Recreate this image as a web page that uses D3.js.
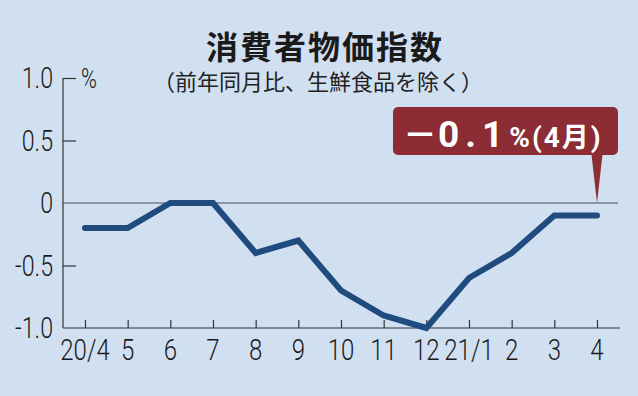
<!DOCTYPE html>
<html>
<head>
<meta charset="utf-8">
<script src="https://cdn.jsdelivr.net/npm/d3@7"></script>
<style>
  body { margin: 0; background: #d1e0f1; }
  svg { display: block; }
</style>
</head>
<body>
<div class="container"></div>
<script>
// data
var months = ["20/4", "5", "6", "7", "8", "9", "10", "11", "12", "21/1", "2", "3", "4"];
var values = [-0.2, -0.2, 0, 0, -0.4, -0.3, -0.7, -0.9, -1.0, -0.6, -0.4, -0.1, -0.1];
var yTicks = [1.0, 0.5, 0, -0.5, -1.0];
var yTickLabels = ["1.0", "0.5", "0", "-0.5", "-1.0"];

var width = 638, height = 396;
var margin = {top: 78, right: 20, bottom: 68, left: 63};
var numFont = "'Roboto', 'Liberation Sans', sans-serif";
var jpFont = "'Noto Sans CJK JP', sans-serif";
var squeeze = 0.8;

var svg = d3.select(".container").append("svg")
    .attr("width", width)
    .attr("height", height);

svg.append("rect")
    .attr("width", width).attr("height", height)
    .attr("fill", "#d1e0f1");

var x = d3.scalePoint()
    .domain(months)
    .range([85, 597]);

var y = d3.scaleLinear()
    .domain([-1, 1])
    .range([height - margin.bottom, margin.top]);

// title
svg.append("text")
    .attr("x", 325).attr("y", 59)
    .attr("text-anchor", "middle")
    .style("font", "bold 32px " + jpFont)
    .style("letter-spacing", "2px")
    .attr("fill", "#1a1a1a")
    .text("消費者物価指数");

svg.append("text")
    .attr("x", 318).attr("y", 90)
    .attr("text-anchor", "middle")
    .style("font", "22px " + jpFont)
    .attr("fill", "#222")
    .text("（前年同月比、生鮮食品を除く）");

// zero line
svg.append("line")
    .attr("x1", margin.left).attr("x2", 618)
    .attr("y1", y(0)).attr("y2", y(0))
    .attr("stroke", "#4a4f57").attr("stroke-width", 1.2);

// y axis
var yAxis = svg.append("g")
    .attr("transform", `translate(${margin.left},0)`)
    .call(d3.axisRight(y).tickValues(yTicks).tickSize(13).tickFormat(""));
yAxis.select(".domain").attr("stroke", "#333").attr("stroke-width", 1.2)
    .attr("d", `M0,${y(1)}V${y(-1)}`);
yAxis.selectAll(".tick line").attr("stroke", "#333").attr("stroke-width", 1.2)
    .attr("x2", d => d === 0 || d === -1 ? 0 : 13);

svg.append("g")
    .selectAll("text")
    .data(yTicks)
    .join("text")
      .attr("transform", d => `translate(53,${y(d) + 10}) scale(${squeeze},1)`)
      .attr("text-anchor", "end")
      .style("font", "300 29px " + numFont)
      .attr("fill", "#1a1a1a")
      .text((d, i) => yTickLabels[i]);

svg.append("text")
    .attr("transform", `translate(81,88) scale(${squeeze},1)`)
    .style("font", "300 27px " + numFont)
    .attr("fill", "#1a1a1a")
    .text("%");

// x axis
var xAxis = svg.append("g")
    .attr("transform", `translate(0,${y(-1)})`)
    .call(d3.axisTop(x).tickSize(8).tickFormat(""));
xAxis.select(".domain").attr("stroke", "#333").attr("stroke-width", 1.2)
    .attr("d", `M${margin.left},0H620`);
xAxis.selectAll(".tick line").attr("stroke", "#333").attr("stroke-width", 1.2);

svg.append("g")
    .selectAll("text")
    .data(months)
    .join("text")
      .attr("transform", d => `translate(${x(d)},${y(-1) + 32}) scale(${squeeze},1)`)
      .attr("text-anchor", "middle")
      .style("font", "300 30px " + numFont)
      .attr("fill", "#1a1a1a")
      .text(d => d);

// line
var line = d3.line()
    .x((d, i) => x(months[i]))
    .y(d => y(d));

svg.append("path")
    .datum(values)
    .attr("fill", "none")
    .attr("stroke", "#1f4b7e")
    .attr("stroke-width", 6)
    .attr("stroke-linejoin", "miter")
    .attr("stroke-linecap", "round")
    .attr("d", line);

// callout
var last = months.length - 1;
var px = x(months[last]);
var callout = svg.append("g");
callout.append("path")
    .attr("d", `M${px - 6},150 L${px},${y(0)} L${px + 6},150 Z`)
    .attr("fill", "#8c2c34");
callout.append("rect")
    .attr("x", 393).attr("y", 107)
    .attr("width", 225).attr("height", 48)
    .attr("rx", 5)
    .attr("fill", "#8c2c34");

var ct = callout.append("text")
    .attr("x", 403).attr("y", 147)
    .attr("fill", "#fff")
    .style("font-family", "'Roboto', 'Liberation Sans', sans-serif")
    .style("font-weight", "bold");
ct.append("tspan")
    .style("font-size", "34px")
    .style("font-family", jpFont)
    .text("－");
ct.append("tspan")
    .attr("dx", 1)
    .style("font-size", "37px")
    .style("letter-spacing", "6px")
    .text(Math.abs(values[last]).toFixed(1));
ct.append("tspan")
    .style("font-size", "28px")
    .text("%");
ct.append("tspan")
    .attr("dx", 2)
    .style("font-size", "28px")
    .style("letter-spacing", "2px")
    .text("(4");
ct.append("tspan")
    .style("font-size", "27px")
    .style("font-family", jpFont)
    .style("letter-spacing", "2px")
    .text("月");
ct.append("tspan")
    .style("font-size", "28px")
    .text(")");
</script>
</body>
</html>
